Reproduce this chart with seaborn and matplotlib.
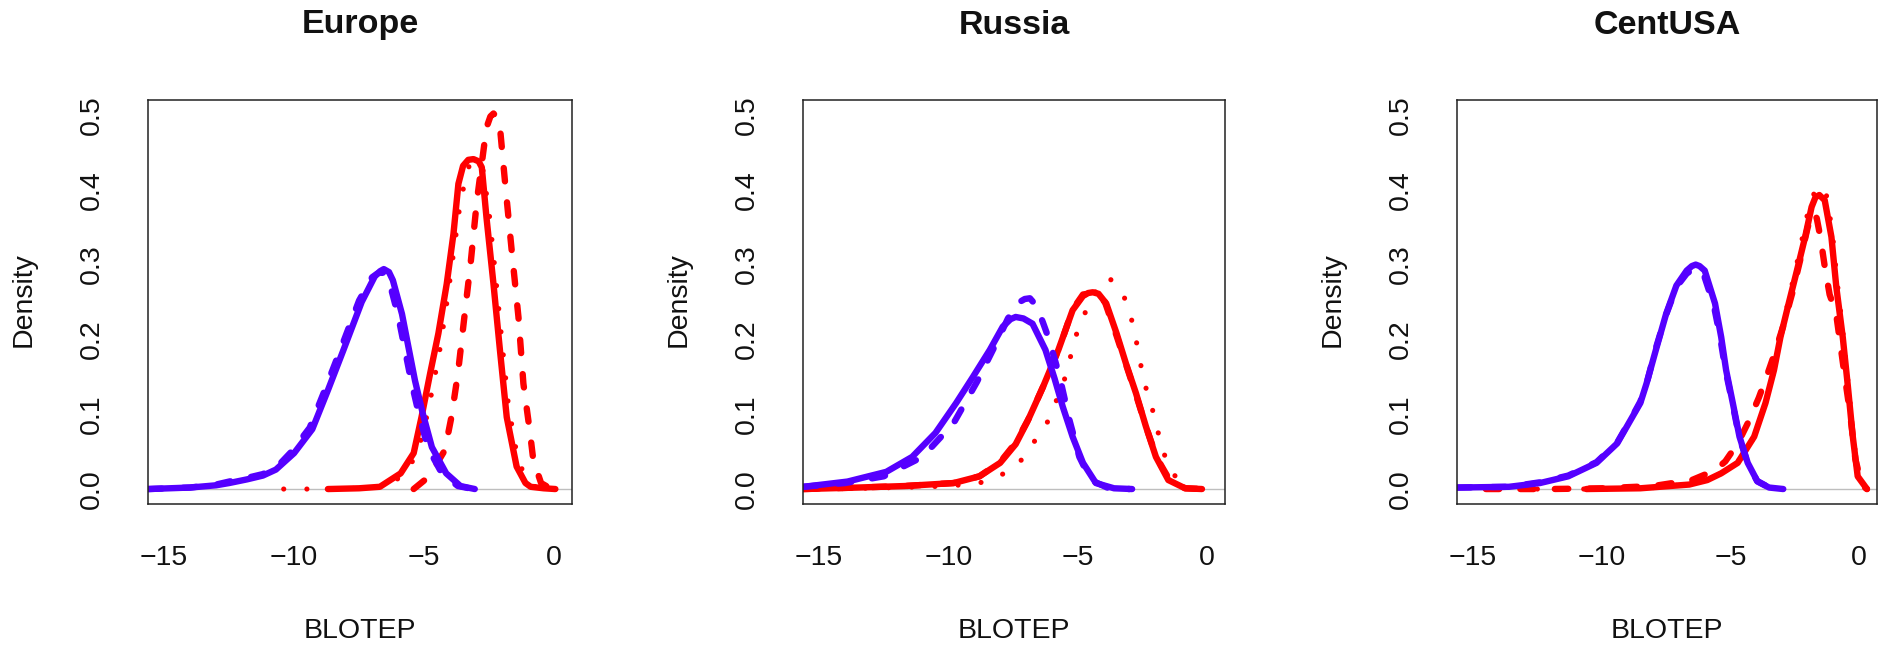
import matplotlib
matplotlib.use("Agg")
import matplotlib.pyplot as plt
import seaborn as sns

# ---------------------------------------------------------------- data
PANELS = ["Europe", "Russia", "CentUSA"]
X_TICKS = [-15, -10, -5, 0]
Y_TICKS = [0.0, 0.1, 0.2, 0.3, 0.4, 0.5]
X_LABEL = "BLOTEP"
Y_LABEL = "Density"

# Europe
EUR_BLUE_SOLID_X = [-15.6, -14.0, -13.0, -12.5, -11.8, -11.2, -10.7, -10.0, -9.3, -8.7, -8.1, -7.4, -6.9, -6.7, -6.55, -6.35, -6.2, -5.85, -5.35, -5.05, -4.7, -4.15, -3.6, -3.05]
EUR_BLUE_SOLID_Y = [0.0, 0.002, 0.005, 0.008, 0.013, 0.018, 0.026, 0.048, 0.080, 0.132, 0.186, 0.250, 0.284, 0.291, 0.294, 0.290, 0.279, 0.234, 0.145, 0.101, 0.056, 0.021, 0.004, 0.0]
EUR_BLUE_DASH_X = [-15.6, -14.0, -13.0, -12.5, -11.8, -11.2, -10.7, -10.1, -9.4, -8.8, -8.2, -7.5, -7.0, -6.8, -6.6, -6.45, -6.3, -6.0, -5.5, -5.2, -4.85, -4.3, -3.7, -3.1]
EUR_BLUE_DASH_Y = [0.0, 0.002, 0.006, 0.010, 0.015, 0.020, 0.028, 0.050, 0.082, 0.134, 0.188, 0.252, 0.283, 0.288, 0.290, 0.284, 0.272, 0.232, 0.145, 0.100, 0.055, 0.020, 0.004, 0.0]
EUR_RED_SOLID_X = [-8.7, -7.5, -6.7, -5.9, -5.4, -5.1, -4.77, -4.45, -4.13, -3.87, -3.68, -3.5, -3.3, -3.1, -2.9, -2.78, -2.6, -2.33, -2.08, -1.82, -1.44, -1.1, -0.9, -0.4, 0.05]
EUR_RED_SOLID_Y = [0.0, 0.001, 0.003, 0.021, 0.048, 0.096, 0.154, 0.208, 0.274, 0.341, 0.408, 0.432, 0.440, 0.441, 0.438, 0.430, 0.363, 0.274, 0.185, 0.096, 0.030, 0.008, 0.003, 0.001, 0.0]
EUR_RED_DASH_X = [-5.4, -4.8, -4.2, -3.95, -3.7, -3.45, -3.2, -2.97, -2.6, -2.45, -2.33, -2.2, -2.08, -1.88, -1.63, -1.37, -1.18, -0.92, -0.8, -0.5, -0.1]
EUR_RED_DASH_Y = [0.0, 0.017, 0.052, 0.096, 0.154, 0.230, 0.305, 0.385, 0.483, 0.498, 0.502, 0.497, 0.483, 0.408, 0.319, 0.230, 0.141, 0.074, 0.039, 0.008, 0.0]
EUR_RED_DOT_X = [-10.4, -9.0, -7.5, -6.5, -5.8, -5.3, -5.0, -4.7, -4.4, -4.1, -3.85, -3.6, -3.3, -3.0, -2.75, -2.5, -2.25, -2.0, -1.75, -1.4, -1.0, -0.6, -0.2]
EUR_RED_DOT_Y = [0.0, 0.0, 0.001, 0.004, 0.018, 0.045, 0.080, 0.130, 0.185, 0.255, 0.320, 0.385, 0.430, 0.440, 0.430, 0.370, 0.285, 0.195, 0.110, 0.040, 0.008, 0.001, 0.0]

# Russia
RUS_BLUE_SOLID_X = [-15.6, -13.9, -12.4, -11.4, -10.5, -9.7, -9.05, -8.4, -7.9, -7.6, -7.4, -7.1, -6.75, -6.25, -5.9, -5.58, -5.2, -4.8, -4.3, -3.6, -2.9]
RUS_BLUE_SOLID_Y = [0.003, 0.010, 0.023, 0.043, 0.075, 0.115, 0.150, 0.186, 0.217, 0.227, 0.230, 0.228, 0.221, 0.186, 0.148, 0.110, 0.070, 0.035, 0.008, 0.001, 0.0]
RUS_BLUE_DASH_X = [-15.6, -14.0, -12.5, -11.0, -9.8, -8.9, -8.15, -7.7, -7.25, -7.05, -6.85, -6.6, -6.35, -6.1, -5.7, -5.32, -4.94, -4.5, -3.8, -3.0]
RUS_BLUE_DASH_Y = [0.003, 0.008, 0.017, 0.043, 0.088, 0.143, 0.195, 0.228, 0.250, 0.254, 0.255, 0.245, 0.223, 0.199, 0.150, 0.092, 0.043, 0.012, 0.001, 0.0]
RUS_RED_SOLID_X = [-15.6, -13.5, -11.7, -9.8, -8.8, -8.0, -7.4, -6.95, -6.35, -5.75, -5.2, -4.8, -4.6, -4.42, -4.2, -3.9, -3.5, -3.14, -2.75, -2.37, -1.98, -1.5, -0.85, -0.2]
RUS_RED_SOLID_Y = [0.0, 0.002, 0.004, 0.008, 0.017, 0.035, 0.060, 0.090, 0.136, 0.186, 0.239, 0.258, 0.262, 0.263, 0.261, 0.248, 0.208, 0.168, 0.128, 0.084, 0.043, 0.012, 0.001, 0.0]
RUS_RED_DASH_X = [-15.6, -13.5, -11.7, -9.8, -8.8, -8.0, -7.4, -6.9, -6.3, -5.7, -5.2, -4.8, -4.4, -3.95, -3.55, -3.15, -2.75, -2.35, -1.95, -1.45, -0.85, -0.2]
RUS_RED_DASH_Y = [0.0, 0.002, 0.004, 0.008, 0.017, 0.036, 0.062, 0.094, 0.140, 0.190, 0.240, 0.260, 0.262, 0.250, 0.210, 0.168, 0.126, 0.082, 0.042, 0.012, 0.001, 0.0]
RUS_RED_DOT_X = [-15.0, -12.0, -10.0, -8.8, -7.9, -7.2, -6.67, -6.18, -5.83, -5.5, -5.28, -5.04, -4.7, -4.25, -3.8, -3.24, -2.95, -2.75, -2.59, -2.4, -2.14, -1.92, -1.69, -1.35, -1.0, -0.5]
RUS_RED_DOT_Y = [0.0, 0.002, 0.004, 0.008, 0.020, 0.038, 0.064, 0.089, 0.118, 0.148, 0.177, 0.208, 0.237, 0.268, 0.283, 0.260, 0.231, 0.200, 0.170, 0.139, 0.110, 0.079, 0.049, 0.022, 0.008, 0.0]

# CentUSA
USA_BLUE_SOLID_X = [-15.6, -13.6, -12.4, -11.3, -10.2, -9.4, -8.8, -8.5, -8.26, -7.88, -7.5, -7.1, -6.7, -6.5, -6.35, -6.2, -6.0, -5.6, -5.36, -5.17, -4.91, -4.65, -4.33, -3.95, -3.5, -2.95]
USA_BLUE_SOLID_Y = [0.002, 0.003, 0.008, 0.017, 0.035, 0.061, 0.097, 0.115, 0.141, 0.188, 0.234, 0.272, 0.292, 0.298, 0.300, 0.298, 0.292, 0.248, 0.203, 0.159, 0.115, 0.070, 0.035, 0.010, 0.002, 0.0]
USA_BLUE_DASH_X = [-15.6, -13.6, -12.4, -11.3, -10.2, -9.4, -8.8, -8.5, -8.25, -7.9, -7.5, -7.1, -6.7, -6.4, -6.05, -5.65, -5.4, -5.2, -4.93, -4.67, -4.35, -3.97, -3.5, -2.95]
USA_BLUE_DASH_Y = [0.002, 0.003, 0.009, 0.018, 0.036, 0.062, 0.098, 0.117, 0.142, 0.188, 0.233, 0.270, 0.288, 0.295, 0.288, 0.246, 0.203, 0.160, 0.116, 0.071, 0.036, 0.011, 0.002, 0.0]
USA_RED_SOLID_X = [-10.6, -8.5, -6.6, -5.9, -5.36, -4.72, -4.08, -3.64, -3.31, -3.06, -2.74, -2.42, -2.1, -1.85, -1.7, -1.55, -1.34, -1.08, -0.89, -0.64, -0.44, -0.25, -0.06, 0.3]
USA_RED_SOLID_Y = [0.0, 0.001, 0.006, 0.012, 0.021, 0.035, 0.070, 0.115, 0.159, 0.203, 0.248, 0.292, 0.337, 0.377, 0.390, 0.393, 0.386, 0.337, 0.270, 0.203, 0.137, 0.070, 0.017, 0.0]
USA_RED_DASH_X = [-14.5, -12.0, -10.0, -8.0, -6.5, -5.6, -5.2, -4.7, -4.3, -3.9, -3.6, -3.3, -2.95, -2.6, -2.3, -2.0, -1.8, -1.65, -1.5, -1.35, -1.15, -0.9, -0.6, -0.35, -0.15, 0.1, 0.3]
USA_RED_DASH_Y = [0.0, 0.0, 0.001, 0.004, 0.012, 0.025, 0.037, 0.062, 0.090, 0.122, 0.150, 0.180, 0.218, 0.262, 0.305, 0.350, 0.370, 0.362, 0.335, 0.300, 0.260, 0.235, 0.160, 0.100, 0.040, 0.005, 0.0]
USA_RED_DOT_X = [-12.5, -10.0, -8.0, -6.5, -5.5, -4.8, -4.1, -3.65, -3.3, -3.05, -2.75, -2.45, -2.15, -1.9, -1.6, -1.3, -1.05, -0.85, -0.62, -0.42, -0.23, -0.05, 0.3]
USA_RED_DOT_Y = [0.0, 0.0, 0.002, 0.007, 0.018, 0.032, 0.068, 0.113, 0.160, 0.205, 0.252, 0.297, 0.345, 0.385, 0.405, 0.398, 0.345, 0.275, 0.205, 0.138, 0.072, 0.018, 0.0]

CURVES = {
    "Europe": [
        (EUR_RED_SOLID_X, EUR_RED_SOLID_Y, "red", "solid"),
        (EUR_RED_DASH_X, EUR_RED_DASH_Y, "red", "dash"),
        (EUR_RED_DOT_X, EUR_RED_DOT_Y, "red", "dot"),
        (EUR_BLUE_SOLID_X, EUR_BLUE_SOLID_Y, "blue", "solid"),
        (EUR_BLUE_DASH_X, EUR_BLUE_DASH_Y, "blue", "dash"),
    ],
    "Russia": [
        (RUS_RED_SOLID_X, RUS_RED_SOLID_Y, "red", "solid"),
        (RUS_RED_DASH_X, RUS_RED_DASH_Y, "red", "dash"),
        (RUS_RED_DOT_X, RUS_RED_DOT_Y, "red", "dot"),
        (RUS_BLUE_SOLID_X, RUS_BLUE_SOLID_Y, "blue", "solid"),
        (RUS_BLUE_DASH_X, RUS_BLUE_DASH_Y, "blue", "dash"),
    ],
    "CentUSA": [
        (USA_RED_SOLID_X, USA_RED_SOLID_Y, "red", "solid"),
        (USA_RED_DASH_X, USA_RED_DASH_Y, "red", "dash"),
        (USA_RED_DOT_X, USA_RED_DOT_Y, "red", "dot"),
        (USA_BLUE_SOLID_X, USA_BLUE_SOLID_Y, "blue", "solid"),
        (USA_BLUE_DASH_X, USA_BLUE_DASH_Y, "blue", "dash"),
    ],
}

# ---------------------------------------------------------------- style
COLORS = {"red": "#FF0000", "blue": "#5500FF"}
LINESTYLES = {
    "solid": dict(linestyle="-", linewidth=4.6),
    "dash": dict(linestyle=(0, (2.1, 3.3)), linewidth=4.6),
    "dot": dict(linestyle=(0, (0.01, 4.5)), linewidth=3.7),
}

sns.set_style("white")
plt.rcParams["font.family"] = ["Liberation Sans", "DejaVu Sans"]

W, H = 1880, 650
fig = plt.figure(figsize=(W / 100, H / 100), dpi=100)

# axes boxes in pixel coordinates: (left, right)
BOX_X = [(148, 572), (803, 1225), (1457, 1877)]
BOX_TOP, BOX_BOTTOM = 100, 504

for (left, right), name in zip(BOX_X, PANELS):
    ax = fig.add_axes([left / W, 1 - BOX_BOTTOM / H, (right - left) / W, (BOX_BOTTOM - BOX_TOP) / H])
    ax.axhline(0, color="#BEBEBE", lw=1.0, zorder=1)
    for xs, ys, col, sty in CURVES[name]:
        sns.lineplot(x=xs, y=ys, ax=ax, color=COLORS[col], sort=False,
                     estimator=None, solid_capstyle="round",
                     dash_capstyle="round", zorder=2, **LINESTYLES[sty])
    ax.set_xlim(-15.62, 0.69)
    ax.set_ylim(-0.02, 0.52)
    ax.set_xticks(X_TICKS)
    ax.set_yticks(Y_TICKS)
    ax.set_xticklabels([f"{t:d}".replace("-", "\u2212") for t in X_TICKS])
    ax.set_yticklabels([f"{t:.1f}" for t in Y_TICKS], rotation=90, va="center")
    ax.tick_params(axis="both", direction="out", length=13.7, width=1.1,
                   color="#222222", labelsize=20.5, labelcolor="#111111")
    ax.tick_params(axis="x", pad=16)
    ax.tick_params(axis="y", pad=17)
    for sp in ax.spines.values():
        sp.set_visible(True)
        sp.set_color("#222222")
        sp.set_linewidth(1.1)
    ax.set_xlabel("")
    ax.set_ylabel("")
    cx = (left + right) / 2 / W
    fig.text(cx, 1 - 25 / H, name, ha="center", va="center",
             fontsize=24.5, fontweight="bold", color="#111111")
    fig.text(cx, 1 - 631 / H, X_LABEL, ha="center", va="center",
             fontsize=20.5, color="#111111")
    fig.text((left - 124) / W, 1 - 300 / H, Y_LABEL, ha="center",
             va="center", rotation=90, fontsize=20.5, color="#111111")

fig.savefig("out.png", dpi=100, facecolor="white")
